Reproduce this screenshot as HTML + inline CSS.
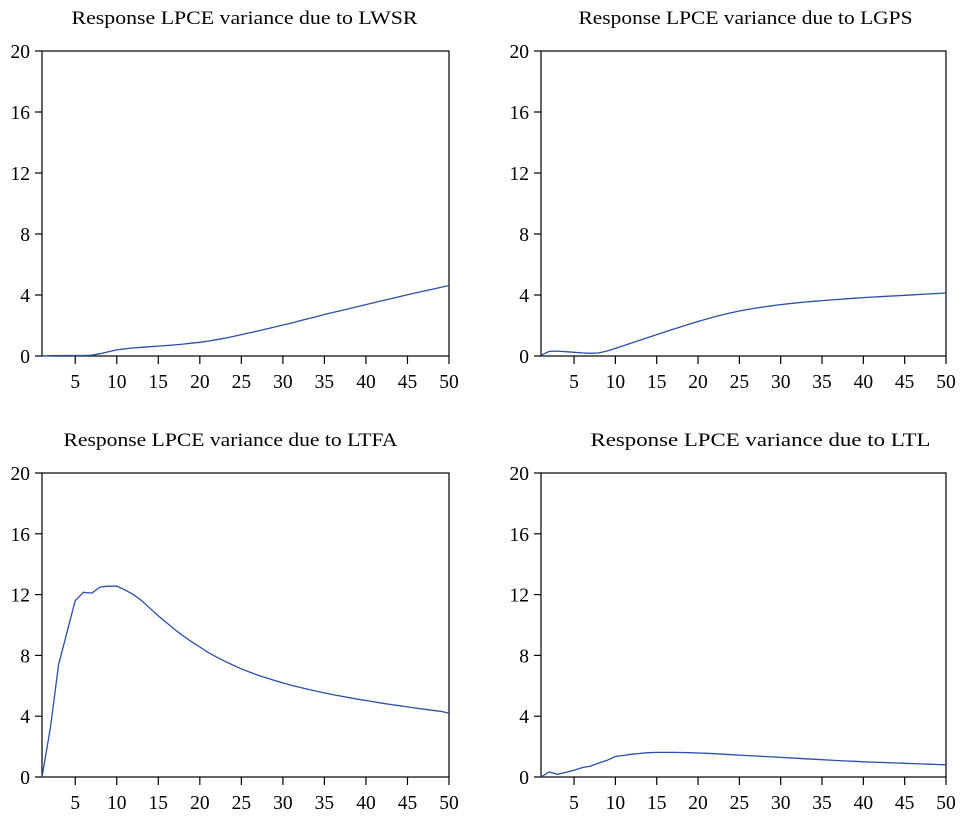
<!DOCTYPE html>
<html><head><meta charset="utf-8"><style>
body{margin:0;background:#fff;}
svg text{font-family:"Liberation Serif",serif;fill:#000;}
</style></head><body>
<svg id="c" width="962" height="818" xmlns="http://www.w3.org/2000/svg"></svg>
<script>
const periods = Array.from({length:50},(_,i)=>i+1);
const xTicks = [5,10,15,20,25,30,35,40,45,50];
const yTicks = [0,4,8,12,16,20];
const titles = ["Response LPCE variance due to LWSR","Response LPCE variance due to LGPS","Response LPCE variance due to LTFA","Response LPCE variance due to LTL"];
const titleWidths = [346,334,334,340];
const lwsr = [0,0.02,0.03,0.03,0.03,0.03,0.05,0.15,0.28,0.4,0.47,0.53,0.57,0.61,0.65,0.69,0.73,0.78,0.84,0.9,0.98,1.07,1.17,1.28,1.4,1.52,1.64,1.77,1.9,2.03,2.16,2.3,2.44,2.58,2.72,2.85,2.98,3.11,3.24,3.37,3.5,3.63,3.76,3.89,4.02,4.14,4.26,4.38,4.5,4.62];
const lgps = [0.05,0.3,0.32,0.28,0.24,0.2,0.18,0.2,0.33,0.5,0.68,0.86,1.04,1.22,1.4,1.58,1.76,1.93,2.1,2.26,2.42,2.57,2.7,2.83,2.95,3.05,3.14,3.22,3.3,3.37,3.43,3.49,3.54,3.59,3.63,3.67,3.71,3.75,3.79,3.83,3.86,3.89,3.92,3.95,3.98,4.01,4.04,4.07,4.1,4.13];
const ltfa = [0,3.2,7.4,9.5,11.6,12.15,12.1,12.5,12.55,12.55,12.3,12.0,11.6,11.1,10.6,10.15,9.7,9.28,8.9,8.55,8.2,7.9,7.62,7.36,7.12,6.9,6.7,6.52,6.35,6.19,6.04,5.9,5.77,5.65,5.53,5.42,5.32,5.22,5.12,5.03,4.94,4.85,4.77,4.69,4.61,4.53,4.46,4.39,4.32,4.2];
const ltl = [0,0.33,0.18,0.3,0.45,0.62,0.72,0.92,1.1,1.35,1.42,1.5,1.55,1.6,1.62,1.62,1.62,1.61,1.6,1.58,1.56,1.53,1.5,1.47,1.44,1.41,1.38,1.35,1.32,1.29,1.26,1.23,1.2,1.17,1.14,1.11,1.08,1.05,1.03,1.0,0.98,0.96,0.94,0.92,0.9,0.88,0.86,0.84,0.82,0.8];
const series = [lwsr,lgps,ltfa,ltl];
const names = ["lwsr","lgps","ltfa","ltl"];
const panels = [{l:42,t:51,b:356,r:449},{l:541,t:51,b:356,r:946},{l:42,t:473,b:777,r:449},{l:541,t:473,b:777,r:946}];
const svg = document.getElementById('c');
const NS='http://www.w3.org/2000/svg';
function mk(tag,attrs,parent){const e=document.createElementNS(NS,tag);for(const k in attrs)e.setAttribute(k,attrs[k]);(parent||svg).appendChild(e);return e;}
panels.forEach((p,i)=>{
  const g=mk('g',{});
  
  
  const xs=v=>p.l+(v-1)*(p.r-p.l)/49;
  const ys=v=>p.b-v*(p.b-p.t)/20;
  const cx=(p.l+p.r)/2+(i===2?-15:(i===3?17:(i===1?2:-1)));
  const t=mk('text',{x:cx,y:p.t-27,'text-anchor':'middle','font-size':19,textLength:titleWidths[i],lengthAdjust:'spacingAndGlyphs'},g);
  t.textContent=titles[i];
  
  
  const box=mk('rect',{x:p.l,y:p.t,width:p.r-p.l,height:p.b-p.t,fill:'none',stroke:'#000','stroke-width':1.2},g);
  
  
  yTicks.forEach(v=>{
    mk('line',{x1:p.l-7,x2:p.l,y1:ys(v),y2:ys(v),stroke:'#000','stroke-width':1.2},g);
    const tt=mk('text',{x:p.l-12,y:ys(v)+7,'text-anchor':'end','font-size':19.5},g);
    tt.textContent=v;
    
    
  });
  xTicks.forEach(v=>{
    mk('line',{x1:xs(v),x2:xs(v),y1:p.b,y2:p.b+8,stroke:'#000','stroke-width':1.2},g);
    const tt=mk('text',{x:xs(v),y:p.b+32,'text-anchor':'middle','font-size':19.5},g);
    tt.textContent=v;
    
    
  });
  const d=series[i].map((v,j)=>(j?'L':'M')+xs(periods[j]).toFixed(1)+','+ys(v).toFixed(1)).join('');
  const path=mk('path',{d:d,fill:'none',stroke:'#2a4eaa','stroke-width':1.3},g);
  
  
});
</script>
</body></html>
